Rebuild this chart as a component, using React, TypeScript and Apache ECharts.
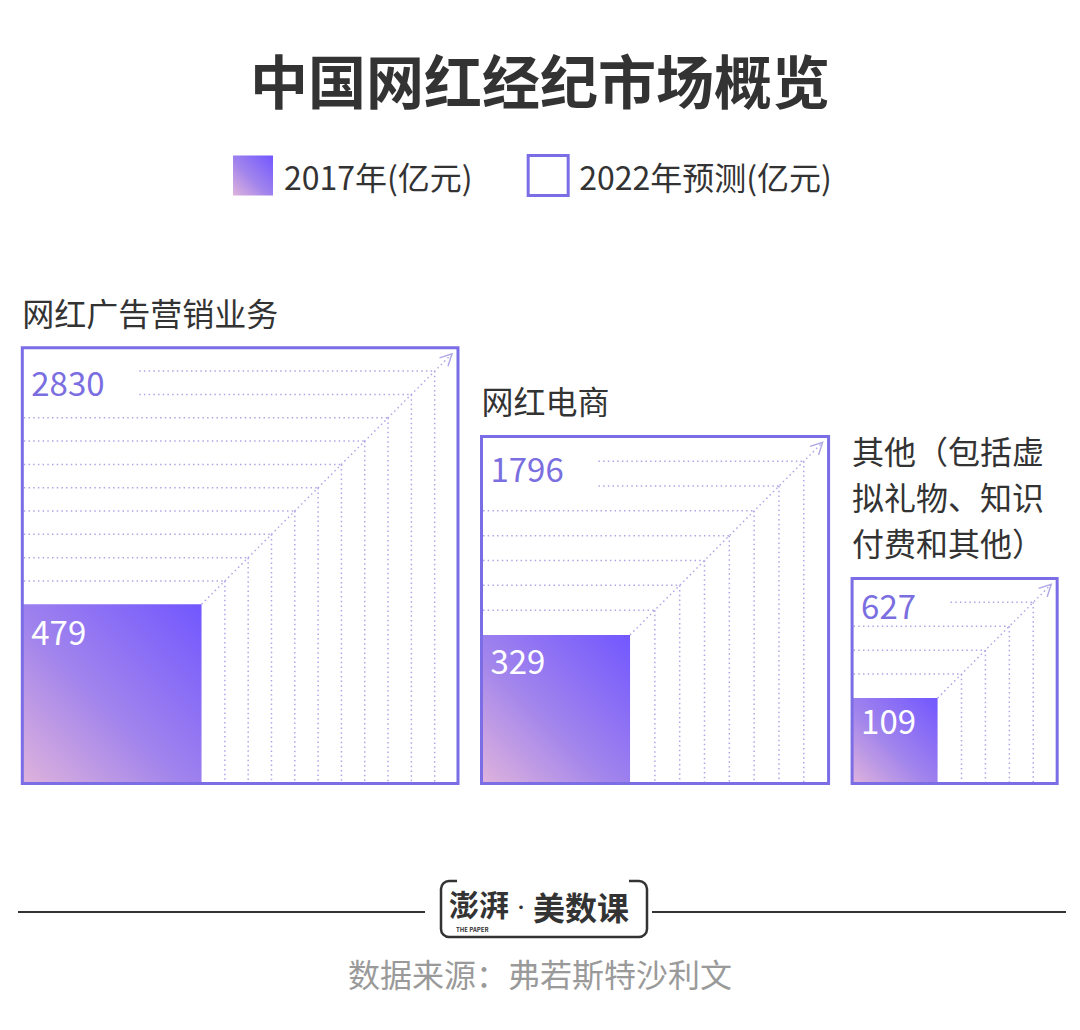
import React, { useEffect, useRef } from 'react';
import * as echarts from 'echarts';

const chartTitle = '中国网红经纪市场概览';
const categories = ['网红广告营销业务', '网红电商', '其他（包括虚拟礼物、知识付费和其他）'];
const values2017 = [479, 329, 109];
const values2022 = [2830, 1796, 627];
const seriesNames = ['2017年(亿元)', '2022年预测(亿元)'];
const logoMain = '美数课';
const logoBrush = '澎湃';
const logoSub = 'THE PAPER';
const sourceText = '数据来源：弗若斯特沙利文';

const FONT = "'Noto Sans CJK SC', 'Noto Sans', sans-serif";
const PURPLE = '#7b6de6';
const DOT = '#aea7e6';
const PX = 8.19; // pixels per sqrt-unit (area-proportional squares)
const GAP = 2.87; // gap between squares, sqrt-units
const LEFT = 22.3;
const BASE_Y = 783.5;

const sides = values2022.map((v) => Math.sqrt(v));
const starts: number[] = [];
let acc = 0;
sides.forEach((s) => {
  starts.push(acc);
  acc += s + GAP;
});
const xMax = acc - GAP;
const yMax = Math.max(...sides);

const makeGradient = () =>
  new echarts.graphic.LinearGradient(1, 0, 0, 1, [
    { offset: 0, color: '#7257ff' },
    { offset: 0.55, color: '#a184ec' },
    { offset: 1, color: '#dfb3dc' },
  ]);

function textStyle(extra: any) {
  const s: any = { fontFamily: FONT, ...extra };
  if (s.align) s.textAlign = s.align;
  if (s.verticalAlign) s.textVerticalAlign = s.verticalAlign;
  return s;
}

export default function App() {
  const ref = useRef<HTMLDivElement>(null);
  useEffect(() => {
    document.body.style.margin = '0';
    const chart = echarts.init(ref.current!, null, { renderer: 'svg' });

    const outerData = categories.map((c, i) => [starts[i], values2022[i], values2017[i], i]);
    const innerData = categories.map((c, i) => [starts[i], values2017[i], values2022[i], i]);

    const option: any = {
      animation: false,
      backgroundColor: '#fff',
      title: {
        text: chartTitle,
        left: 'center',
        top: 45,
        textStyle: { fontSize: 58, fontWeight: 'bold', color: '#333', fontFamily: FONT },
      },
      legend: {
        left: 228,
        top: 149,
        icon: 'rect',
        itemWidth: 40,
        itemHeight: 40,
        itemGap: 54,
        selectedMode: false,
        textStyle: { fontSize: 32, color: '#333', fontFamily: FONT, padding: [0, 0, 0, 6] },
        data: [
          { name: seriesNames[0], itemStyle: { color: makeGradient(), borderWidth: 0 } },
          { name: seriesNames[1], itemStyle: { color: '#fff', borderColor: PURPLE, borderWidth: 3 } },
        ],
      },
      grid: {
        left: LEFT,
        top: BASE_Y - yMax * PX,
        width: xMax * PX,
        height: yMax * PX,
        containLabel: false,
        outerBoundsMode: 'none',
      },
      xAxis: { type: 'value', min: 0, max: xMax, show: false },
      yAxis: { type: 'value', min: 0, max: yMax, show: false },
      series: [
        {
          name: seriesNames[0],
          type: 'custom',
          z: 2,
          itemStyle: { color: makeGradient() },
          data: innerData,
          renderItem: (params: any, api: any) => {
            const x0 = api.value(0);
            const s = Math.sqrt(api.value(1));
            const p0 = api.coord([x0, 0]);
            const q1 = api.coord([x0 + s, s]);
            const w = q1[0] - p0[0];
            const h = p0[1] - q1[1];
            return {
              type: 'group',
              children: [
                {
                  type: 'rect',
                  shape: { x: p0[0], y: q1[1], width: w, height: h },
                  style: { fill: makeGradient() },
                },
                {
                  type: 'text',
                  x: p0[0] + 9,
                  y: q1[1] + 17 + 0.055 * w,
                  style: textStyle({
                    text: String(api.value(1)),
                    fill: '#fff',
                    fontSize: 33,
                    align: 'left',
                    verticalAlign: 'middle',
                  }),
                },
              ],
            };
          },
        },
        {
          name: seriesNames[1],
          type: 'custom',
          z: 3,
          itemStyle: { color: '#fff', borderColor: PURPLE, borderWidth: 3 },
          data: outerData,
          renderItem: (params: any, api: any) => {
            const x0 = api.value(0);
            const v = api.value(1);
            const S = Math.sqrt(v);
            const s = Math.sqrt(api.value(2));
            const idx = api.value(3);
            const p0 = api.coord([x0, 0]);
            const p1 = api.coord([x0 + S, S]);
            const q1 = api.coord([x0 + s, s]);
            const L = p0[0];
            const B = p0[1];
            const R = p1[0];
            const T = p1[1];
            const ix = q1[0];
            const iy = q1[1];
            const side = R - L;
            const n = Math.max(1, Math.round((R - ix) / 24));
            const d = (R - ix) / n;
            const fs = 33;
            const labelY = T + 20 + 0.032 * side;
            const labelText = String(v);
            const labelW = labelText.length * fs * 0.56;
            const skipStart = L + 9 + labelW + 34;
            const children: any[] = [];
            const dotted = { stroke: DOT, lineWidth: 1.5, lineDash: [1.5, 3.2], fill: 'none' };
            for (let k = 1; k < n; k++) {
              const cx = ix + k * d;
              const cy = iy - k * d;
              const sx = Math.abs(cy - labelY) < 20 ? skipStart : L + 1.5;
              children.push({
                type: 'line',
                shape: { x1: sx, y1: cy, x2: cx, y2: cy },
                style: dotted,
              });
              children.push({
                type: 'line',
                shape: { x1: cx, y1: cy, x2: cx, y2: B - 1.5 },
                style: dotted,
              });
            }
            const tx = R - 6;
            const ty = T + 6;
            children.push({
              type: 'line',
              shape: { x1: ix, y1: iy, x2: tx, y2: ty },
              style: dotted,
            });
            children.push({
              type: 'polyline',
              shape: { points: [[tx - 12.5, ty + 4], [tx, ty], [tx - 4, ty + 12.5]] },
              style: { stroke: DOT, lineWidth: 1.4, fill: 'none' },
            });
            children.push({
              type: 'rect',
              shape: { x: L, y: T, width: side, height: B - T },
              style: { fill: 'none', stroke: PURPLE, lineWidth: 3 },
            });
            children.push({
              type: 'text',
              x: L + 9,
              y: labelY,
              style: textStyle({
                text: labelText,
                fill: '#7b6ee0',
                fontSize: fs,
                align: 'left',
                verticalAlign: 'middle',
              }),
            });
            children.push({
              type: 'text',
              x: L,
              y: T - 13,
              style: textStyle({
                text: categories[idx],
                fill: '#333',
                fontSize: 32,
                lineHeight: 46,
                width: side,
                overflow: 'break',
                align: 'left',
                verticalAlign: 'bottom',
              }),
            });
            return { type: 'group', children };
          },
        },
      ],
      graphic: [
        { type: 'line', shape: { x1: 18, y1: 912, x2: 425, y2: 912 }, style: { stroke: '#333', lineWidth: 2 } },
        { type: 'line', shape: { x1: 652, y1: 912, x2: 1066, y2: 912 }, style: { stroke: '#333', lineWidth: 2 } },
        {
          type: 'rect',
          shape: { x: 441, y: 881, width: 206, height: 56, r: 8 },
          style: { fill: '#fff', stroke: '#333', lineWidth: 2.5 },
        },
        { type: 'rect', shape: { x: 457, y: 877, width: 172, height: 8 }, style: { fill: '#fff' } },
        {
          type: 'text',
          x: 449,
          y: 903,
          style: textStyle({ text: logoBrush, fontSize: 30, fontWeight: 'bold', fill: '#333', align: 'left', verticalAlign: 'middle', lineHeight: 30 }),
        },
        {
          type: 'text',
          x: 521,
          y: 906,
          style: textStyle({ text: '·', fontSize: 14, fontWeight: 'bold', fill: '#333', align: 'center', verticalAlign: 'middle', lineHeight: 14 }),
        },
        {
          type: 'text',
          x: 533,
          y: 906,
          style: textStyle({ text: logoMain, fontSize: 32, fontWeight: 'bold', fill: '#333', align: 'left', verticalAlign: 'middle', lineHeight: 32 }),
        },
        {
          type: 'text',
          x: 456,
          y: 929,
          style: textStyle({ text: logoSub, fontSize: 6, fontWeight: 'bold', fill: '#333', align: 'left', verticalAlign: 'middle', lineHeight: 6 }),
        },
        {
          type: 'text',
          x: 540,
          y: 973,
          style: textStyle({ text: sourceText, fontSize: 32, fill: '#9a9a9a', align: 'center', verticalAlign: 'middle' }),
        },
      ],
    };
    chart.setOption(option);
    return () => chart.dispose();
  }, []);
  return (
    <div
      ref={ref}
      style={{ position: 'absolute', left: 0, top: 0, width: 1080, height: 1030, background: '#fff' }}
    />
  );
}
